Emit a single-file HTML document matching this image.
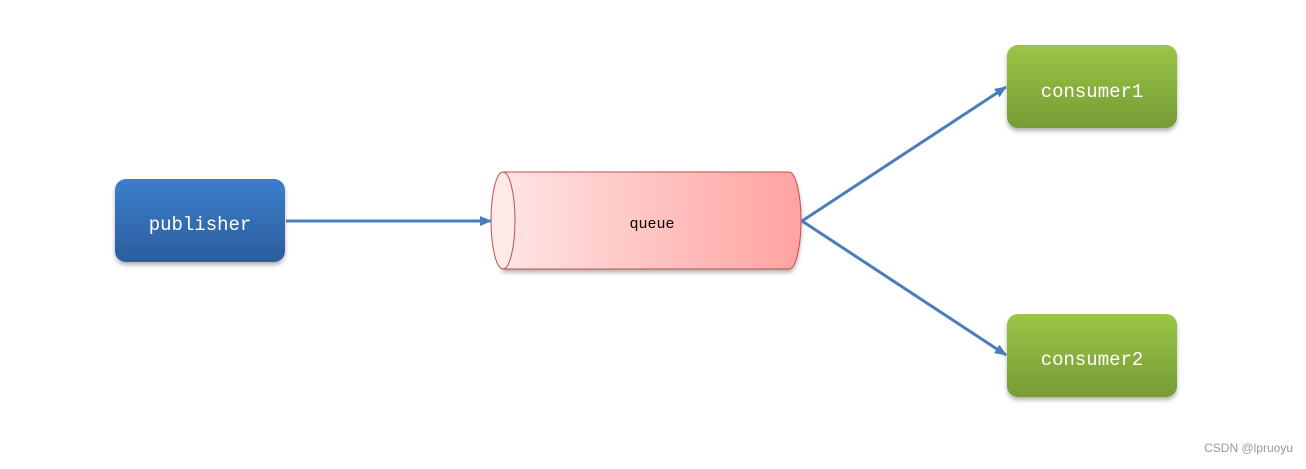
<!DOCTYPE html>
<html><head><style>
body{margin:0;background:#fff;width:1306px;height:464px;overflow:hidden}
</style></head><body>
<svg width="1306" height="464" xmlns="http://www.w3.org/2000/svg">
<defs>
<linearGradient id="b" x1="0" y1="0" x2="0" y2="1"><stop offset="0" stop-color="#3b7fcc"/><stop offset="1" stop-color="#2c5d9c"/></linearGradient>
<linearGradient id="g" x1="0" y1="0" x2="0" y2="1"><stop offset="0" stop-color="#9bc547"/><stop offset="1" stop-color="#769b35"/></linearGradient>
<linearGradient id="r" x1="0" y1="0" x2="1" y2="0"><stop offset="0" stop-color="#ffe4e4"/><stop offset="1" stop-color="#ffa3a1"/></linearGradient>
<filter id="s" x="-10%" y="-10%" width="130%" height="140%"><feDropShadow dx="0" dy="3" stdDeviation="2" flood-color="#000" flood-opacity="0.3"/></filter>
<marker id="a" markerWidth="12" markerHeight="10" refX="11" refY="5" orient="auto" markerUnits="userSpaceOnUse"><path d="M0,0 L12,5 L0,10 z" fill="#4a7ebb"/></marker>
</defs>
<rect x="115" y="179" width="170" height="83" rx="11" fill="url(#b)" filter="url(#s)"/>
<rect x="1007" y="45" width="170" height="83" rx="11" fill="url(#g)" filter="url(#s)"/>
<rect x="1007" y="314" width="170" height="83" rx="11" fill="url(#g)" filter="url(#s)"/>
<path d="M503,172 L789,172 A12,48.5 0 0 1 789,269 L503,269 Z" fill="url(#r)" stroke="#c0504d" stroke-width="1" filter="url(#s)"/>
<ellipse cx="503" cy="220.5" rx="12" ry="48.5" fill="#ffe8e8" stroke="#c0504d" stroke-width="1"/>
<g stroke="#4a7ebb" stroke-width="3" fill="none">
<line x1="286" y1="221" x2="491" y2="221" marker-end="url(#a)"/>
<line x1="802" y1="221" x2="1006" y2="87" marker-end="url(#a)"/>
<line x1="802" y1="221" x2="1006" y2="355" marker-end="url(#a)"/>
</g>
<g font-family="Liberation Mono, monospace" fill="#fff" font-size="19" text-anchor="middle">
<text x="200" y="230">publisher</text>
<text x="1092" y="97">consumer1</text>
<text x="1092" y="365">consumer2</text>
</g>
<text x="652" y="228" font-family="Liberation Mono, monospace" font-size="15" text-anchor="middle" fill="#000">queue</text>
<text x="1293" y="452" font-family="Liberation Sans, sans-serif" font-size="12" text-anchor="end" fill="#999">CSDN @lpruoyu</text>
</svg>
</body></html>
